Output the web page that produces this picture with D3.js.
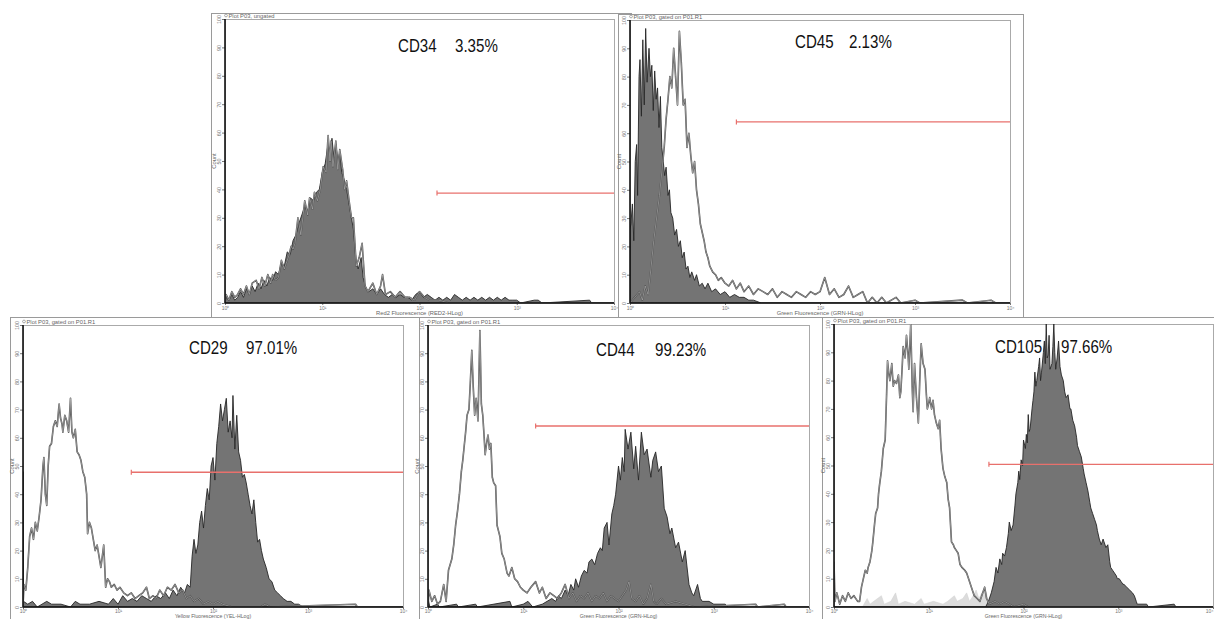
<!DOCTYPE html>
<html><head><meta charset="utf-8">
<script src="https://cdn.jsdelivr.net/npm/d3@7"></script>
<style>body{margin:0;background:#fff;} svg{display:block;font-family:"Liberation Sans",Arial,sans-serif;}</style>
</head><body><svg id="c" width="1214" height="619"></svg>
<script>
// ---------- data ----------
const markers = ["CD34", "CD45", "CD29", "CD44", "CD105"];
const percents = ["3.35%", "2.13%", "97.01%", "99.23%", "97.66%"];
const plotTitles = ["Plot P03, ungated", "Plot P03, gated on P01.R1", "Plot P03, gated on P01.R1", "Plot P03, gated on P01.R1", "Plot P03, gated on P01.R1"];
const axisTitles = ["Red2 Fluorescence (RED2-HLog)", "Green Fluorescence (GRN-HLog)", "Yellow Fluorescence (YEL-HLog)", "Green Fluorescence (GRN-HLog)", "Green Fluorescence (GRN-HLog)"];
const xTickValues = [1, 10, 100, 1000, 10000];
const xTickLabels = ["10\u2070", "10\u00b9", "10\u00b2", "10\u00b3", "10\u2074"];
const yTickValues = [0, 10, 20, 30, 40, 50, 60, 70, 80, 90, 100];
const yTickLabels = ["0", "10", "20", "30", "40", "50", "60", "70", "80", "90", "100"];
const yAxisLabel = "Count";
// gate marker: start (decades) and height (count)
const gateStart = [2.18, 1.12, 1.14, 1.13, 1.635];
const gateLevel = [38.7, 64, 47.8, 64.2, 50.4];

// histograms: [log10 fluorescence, count]
const cd34Stained = [[0,0],[0.01,2],[0.04,1],[0.07,3],[0.1,1],[0.13,2],[0.16,4],[0.19,2],[0.22,5],[0.25,3],[0.28,6],[0.31,4],[0.34,7],[0.37,5],[0.4,8],[0.43,6],[0.46,9],[0.49,8],[0.52,11],[0.55,10],[0.58,14],[0.61,13],[0.64,18],[0.67,17],[0.7,22],[0.73,24],[0.76,28],[0.79,31],[0.82,34],[0.85,32],[0.88,37],[0.91,36],[0.94,39],[0.97,40],[1.0,46],[1.03,49],[1.06,56],[1.08,52],[1.1,58],[1.12,51],[1.14,56],[1.16,50],[1.18,53],[1.2,46],[1.22,44],[1.25,40],[1.27,36],[1.3,30],[1.32,26],[1.35,14],[1.37,12],[1.4,16],[1.42,9],[1.45,5],[1.48,4],[1.52,5],[1.56,3],[1.6,5],[1.64,3],[1.68,2],[1.72,3],[1.76,2],[1.8,3],[1.84,2],[1.88,2],[1.92,1],[1.96,3],[2.0,4],[2.04,2],[2.08,3],[2.12,2],[2.16,1],[2.2,2],[2.24,1],[2.28,2],[2.32,1],[2.36,3],[2.4,2],[2.44,1],[2.48,2],[2.52,1],[2.56,2],[2.6,1],[2.64,2],[2.68,1],[2.72,2],[2.76,1],[2.8,2],[2.84,1],[2.88,2],[2.92,1],[2.96,1],[3.0,1],[3.04,0],[3.18,1],[3.22,1],[3.26,0],[3.75,1],[3.77,0],[4,0]];
const cd34Control = [[0,0],[0.01,3],[0.04,1],[0.07,4],[0.1,2],[0.13,3],[0.16,5],[0.19,3],[0.22,6],[0.25,3],[0.28,7],[0.32,8],[0.35,5],[0.38,9],[0.41,6],[0.44,10],[0.47,7],[0.49,10],[0.52,8],[0.55,9],[0.58,15],[0.61,12],[0.63,14],[0.66,17],[0.68,20],[0.7,19],[0.72,21],[0.75,30],[0.78,24],[0.82,36],[0.85,31],[0.87,37],[0.9,33],[0.92,39],[0.95,36],[0.98,40],[1.01,48],[1.04,46],[1.06,59],[1.08,50],[1.09,57],[1.11,48],[1.14,57],[1.16,47],[1.18,54],[1.21,47],[1.23,40],[1.25,43],[1.28,35],[1.3,30],[1.32,30],[1.35,13],[1.38,16],[1.41,21],[1.44,6],[1.47,4],[1.52,7],[1.56,3],[1.6,6],[1.62,10],[1.65,3],[1.7,4],[1.75,2],[1.8,4],[1.85,2],[1.9,2],[1.95,1],[2.0,4],[2.05,2],[2.1,1],[2.2,1],[2.3,0],[4,0]];

const cd45Stained = [[0,26],[0.01,28],[0.025,35],[0.04,22],[0.055,50],[0.07,56],[0.08,38],[0.095,80],[0.105,86],[0.12,66],[0.135,93],[0.15,70],[0.165,97],[0.18,78],[0.2,90],[0.215,80],[0.23,84],[0.245,68],[0.26,82],[0.275,72],[0.29,76],[0.305,62],[0.32,73],[0.335,55],[0.35,50],[0.365,45],[0.38,48],[0.4,38],[0.415,40],[0.43,32],[0.45,30],[0.47,24],[0.49,26],[0.51,20],[0.53,22],[0.55,16],[0.57,18],[0.59,12],[0.61,13],[0.63,9],[0.65,11],[0.68,8],[0.7,10],[0.73,6],[0.76,7],[0.79,5],[0.82,7],[0.86,4],[0.9,5],[0.95,3],[1.0,4],[1.05,2],[1.1,3],[1.15,2],[1.2,2],[1.25,1],[1.3,1],[1.38,0],[4,0]];
const cd45Control = [[0,0],[0.05,2],[0.1,4],[0.13,1],[0.16,6],[0.19,3],[0.22,12],[0.25,22],[0.28,30],[0.31,38],[0.34,48],[0.36,55],[0.38,65],[0.4,72],[0.42,80],[0.44,76],[0.46,90],[0.48,80],[0.5,70],[0.52,96],[0.54,85],[0.56,70],[0.58,72],[0.6,55],[0.62,60],[0.64,52],[0.66,46],[0.68,50],[0.7,40],[0.72,35],[0.74,28],[0.76,25],[0.78,22],[0.8,18],[0.82,16],[0.84,13],[0.87,11],[0.9,10],[0.93,8],[0.96,9],[1.0,7],[1.04,6],[1.08,8],[1.12,5],[1.16,7],[1.2,4],[1.25,6],[1.3,3],[1.35,5],[1.4,4],[1.45,3],[1.5,5],[1.55,2],[1.6,4],[1.65,3],[1.7,2],[1.75,4],[1.8,3],[1.85,2],[1.9,4],[1.95,3],[2.0,4],[2.05,9],[2.1,3],[2.15,5],[2.2,2],[2.25,3],[2.3,6],[2.35,2],[2.4,3],[2.45,4],[2.5,0],[2.55,2],[2.6,0],[2.65,2],[2.7,0],[2.8,2],[2.85,0],[3.0,1],[3.05,0],[3.5,1],[3.55,0],[3.8,1],[3.85,0],[4,0]];

const cd29Stained = [[0,48],[0.005,2],[0.05,1],[0.1,2],[0.15,0],[0.2,1],[0.25,2],[0.3,1],[0.4,1],[0.5,0],[0.55,2],[0.6,1],[0.7,1],[0.8,2],[0.9,1],[0.95,3],[1.0,1],[1.05,4],[1.1,2],[1.15,3],[1.2,2],[1.25,4],[1.3,3],[1.35,2],[1.4,4],[1.45,3],[1.5,5],[1.54,3],[1.58,6],[1.62,4],[1.66,7],[1.7,5],[1.73,8],[1.76,7],[1.78,18],[1.8,24],[1.82,19],[1.84,22],[1.86,30],[1.88,34],[1.9,28],[1.92,36],[1.94,42],[1.96,38],[1.98,50],[2.0,53],[2.02,45],[2.04,58],[2.06,64],[2.08,72],[2.1,66],[2.12,70],[2.14,74],[2.16,62],[2.18,66],[2.2,60],[2.21,75],[2.23,56],[2.25,68],[2.27,55],[2.29,52],[2.31,46],[2.33,47],[2.35,44],[2.37,40],[2.39,36],[2.41,33],[2.43,38],[2.45,30],[2.47,23],[2.49,24],[2.51,20],[2.53,17],[2.56,14],[2.59,10],[2.62,9],[2.65,6],[2.68,5],[2.71,4],[2.74,3],[2.78,2],[2.82,2],[2.86,1],[2.9,1],[2.95,0],[4,0]];
const cd29Control = [[0,0],[0.01,8],[0.03,6],[0.05,14],[0.07,25],[0.09,28],[0.11,24],[0.13,30],[0.15,27],[0.17,32],[0.19,38],[0.21,50],[0.22,53],[0.235,40],[0.25,36],[0.265,50],[0.28,57],[0.3,58],[0.32,64],[0.34,66],[0.36,64],[0.38,72],[0.395,67],[0.41,65],[0.42,62],[0.44,68],[0.46,66],[0.48,62],[0.5,74],[0.515,62],[0.53,60],[0.55,63],[0.57,55],[0.59,54],[0.61,52],[0.63,48],[0.65,46],[0.67,40],[0.68,26],[0.7,30],[0.72,28],[0.74,24],[0.76,20],[0.78,22],[0.8,18],[0.82,14],[0.85,22],[0.87,7],[0.89,10],[0.91,9],[0.93,7],[0.96,8],[0.99,6],[1.02,7],[1.06,5],[1.1,4],[1.14,5],[1.18,3],[1.22,4],[1.26,5],[1.3,7],[1.33,3],[1.37,4],[1.4,3],[1.44,6],[1.48,4],[1.52,7],[1.56,6],[1.6,8],[1.64,5],[1.68,6],[1.72,3],[1.76,4],[1.8,2],[1.85,3],[1.9,1],[1.95,2],[2.0,1],[2.05,2],[2.1,1],[2.2,0],[2.5,0],[2.55,1],[2.6,0],[3.5,1],[3.52,0],[4,0]];

const cd44Stained = [[0,3],[0.02,0],[0.1,1],[0.12,0],[0.3,1],[0.32,0],[0.5,1],[0.52,0],[0.86,2],[0.88,0],[1.0,1],[1.05,2],[1.1,0],[1.2,1],[1.25,2],[1.3,3],[1.34,2],[1.37,4],[1.4,3],[1.44,6],[1.47,4],[1.5,8],[1.53,6],[1.55,10],[1.58,7],[1.61,11],[1.64,13],[1.67,12],[1.69,16],[1.72,17],[1.75,15],[1.78,19],[1.81,21],[1.83,20],[1.85,28],[1.88,30],[1.9,22],[1.93,33],[1.95,36],[1.97,40],[2.0,50],[2.02,45],[2.04,53],[2.06,48],[2.07,63],[2.1,56],[2.13,62],[2.16,49],[2.18,57],[2.21,45],[2.24,62],[2.27,54],[2.3,56],[2.34,46],[2.36,52],[2.39,55],[2.42,48],[2.45,50],[2.48,35],[2.51,32],[2.54,26],[2.56,28],[2.6,21],[2.63,23],[2.67,16],[2.7,20],[2.74,8],[2.77,5],[2.79,4],[2.83,8],[2.86,3],[2.88,2],[2.95,2],[3.0,1],[3.12,1],[3.15,0],[4,0]];
const cd44Control = [[0,0],[0.01,6],[0.04,2],[0.07,4],[0.1,1],[0.13,2],[0.165,8],[0.19,2],[0.215,13],[0.25,17],[0.27,22],[0.29,29],[0.31,34],[0.33,40],[0.35,48],[0.365,52],[0.38,57],[0.395,62],[0.41,68],[0.43,70],[0.445,80],[0.46,91],[0.475,78],[0.49,68],[0.505,74],[0.525,66],[0.545,98],[0.56,72],[0.575,68],[0.59,60],[0.6,54],[0.615,58],[0.63,61],[0.645,56],[0.66,58],[0.675,46],[0.69,44],[0.71,43],[0.725,29],[0.74,27],[0.755,25],[0.775,19],[0.8,17],[0.83,12],[0.85,11],[0.88,14],[0.91,10],[0.94,9],[0.97,7],[1.0,6],[1.04,5],[1.08,7],[1.13,9],[1.17,5],[1.2,7],[1.24,3],[1.28,5],[1.32,4],[1.36,3],[1.4,5],[1.44,8],[1.48,3],[1.52,5],[1.56,2],[1.6,4],[1.64,3],[1.68,5],[1.72,2],[1.76,4],[1.8,3],[1.84,5],[1.88,2],[1.92,4],[1.96,3],[2.0,2],[2.04,4],[2.08,6],[2.11,9],[2.14,3],[2.18,2],[2.22,4],[2.26,1],[2.3,3],[2.34,8],[2.37,2],[2.4,1],[2.45,3],[2.5,1],[2.6,2],[2.7,1],[2.8,0],[3.44,1],[3.46,0],[3.74,1],[3.76,0],[4,0]];

const cd105Stained = [[0,0],[1.6,0],[1.63,2],[1.66,5],[1.69,9],[1.71,14],[1.73,12],[1.75,17],[1.77,15],[1.78,19],[1.8,18],[1.82,21],[1.84,26],[1.85,30],[1.87,27],[1.89,29],[1.91,36],[1.92,40],[1.94,44],[1.95,48],[1.96,45],[1.975,52],[1.99,50],[2.0,59],[2.02,56],[2.03,61],[2.04,58],[2.05,68],[2.06,62],[2.07,63],[2.09,70],[2.1,73],[2.11,76],[2.12,83],[2.13,78],[2.14,80],[2.16,85],[2.17,88],[2.18,80],[2.19,83],[2.21,90],[2.22,94],[2.23,86],[2.24,100],[2.25,88],[2.26,89],[2.27,96],[2.28,84],[2.3,86],[2.31,92],[2.32,100],[2.33,90],[2.34,84],[2.355,88],[2.37,94],[2.385,85],[2.4,82],[2.42,80],[2.435,76],[2.45,74],[2.47,75],[2.49,70],[2.5,70],[2.52,66],[2.54,64],[2.56,60],[2.57,57],[2.59,55],[2.61,53],[2.63,49],[2.64,47],[2.66,44],[2.68,41],[2.7,37],[2.71,35],[2.73,33],[2.75,31],[2.77,29],[2.78,27],[2.8,24],[2.82,22],[2.84,24],[2.85,23],[2.87,21],[2.89,22],[2.91,16],[2.92,14],[2.94,13],[2.96,12],[2.98,11],[2.99,10],[3.01,10],[3.03,9],[3.05,8],[3.06,8],[3.09,7],[3.12,6],[3.15,5],[3.17,4],[3.19,2],[3.2,1],[3.3,1],[3.32,0],[3.59,1],[3.61,0],[4,0]];
const cd105Control = [[0,16],[0.01,2],[0.03,5],[0.06,1],[0.09,4],[0.12,2],[0.15,5],[0.18,3],[0.21,4],[0.25,2],[0.27,2],[0.29,7],[0.31,10],[0.33,13],[0.35,12],[0.36,14],[0.38,16],[0.4,20],[0.41,23],[0.43,30],[0.44,33],[0.46,35],[0.47,40],[0.48,43],[0.5,48],[0.52,56],[0.54,59],[0.555,75],[0.565,87],[0.58,82],[0.59,80],[0.61,86],[0.625,78],[0.64,80],[0.66,79],[0.68,82],[0.695,74],[0.705,76],[0.72,85],[0.73,92],[0.75,88],[0.765,96],[0.78,90],[0.79,84],[0.81,100],[0.825,78],[0.835,69],[0.85,86],[0.87,74],[0.89,65],[0.905,80],[0.92,93],[0.94,86],[0.96,84],[0.975,75],[0.985,70],[1.0,72],[1.01,74],[1.03,70],[1.045,73],[1.06,68],[1.08,65],[1.1,63],[1.115,66],[1.13,56],[1.15,49],[1.17,46],[1.19,44],[1.205,38],[1.22,35],[1.24,23],[1.26,22],[1.27,21],[1.29,20],[1.31,19],[1.33,15],[1.35,14],[1.38,13],[1.4,12],[1.43,9],[1.45,7],[1.48,4],[1.51,3],[1.54,2],[1.57,5],[1.59,7],[1.61,3],[1.64,1],[1.7,2],[1.75,1],[1.8,2],[1.85,1],[1.9,0],[2.0,1],[2.05,0],[4,0]];
const cd105Background = [[0,0],[0.3,0],[0.35,3],[0.38,1],[0.42,2],[0.5,4],[0.53,1],[0.6,2],[0.65,5],[0.68,1],[0.75,2],[0.85,1],[0.92,3],[0.95,1],[1.05,2],[1.15,1],[1.2,2],[1.27,4],[1.3,2],[1.36,3],[1.4,5],[1.43,2],[1.47,4],[1.5,6],[1.53,3],[1.56,5],[1.6,6],[1.63,2],[1.66,0],[4,0]];

const stainedSeries = [cd34Stained, cd45Stained, cd29Stained, cd44Stained, cd105Stained];
const controlSeries = [cd34Control, cd45Control, cd29Control, cd44Control, cd105Control];
const backgroundSeries = [null, null, null, null, cd105Background];

// ---------- layout ----------
const layout = [
  {frame:[211,13,420,330], plot:[225,19,614,303], lab:[398,455,52], tickY:3.5, titleDy:12, titleFs:5.8},
  {frame:[618,14,405,330], plot:[630,20,1010,303], lab:[795,849,48], tickY:3.5, titleDy:12, titleFs:5.8},
  {frame:[10,317,412,320], plot:[23,325,403,607], lab:[189,246,354], tickY:2, titleDy:11, titleFs:5.2},
  {frame:[419,317,410,320], plot:[428,325,809,607], lab:[596,655,356], tickY:2, titleDy:11, titleFs:5.2},
  {frame:[822,317,400,320], plot:[834,324,1213,607], lab:[995,1061,353], tickY:2, titleDy:11, titleFs:5.2}
];

const svg = d3.select("#c");
svg.append("rect").attr("width",1214).attr("height",619).attr("fill","#fff");
const defs = svg.append("defs");

layout.forEach((L, i) => {
  const [l, t, r, b] = L.plot;
  const g = svg.append("g");
  g.append("rect").attr("x", L.frame[0]+0.5).attr("y", L.frame[1]+0.5)
    .attr("width", L.frame[2]).attr("height", L.frame[3])
    .attr("fill", "#fff").attr("stroke", "#9a9a9a").attr("stroke-width", 1);

  const x = d3.scaleLog().domain([1, 10000]).range([l, r]);
  const y = d3.scaleLinear().domain([0, 100]).range([b, t]);

  g.append("rect").attr("x", l+0.5).attr("y", t+0.5).attr("width", r-l).attr("height", b-t)
    .attr("fill", "#fff").attr("stroke", "#aaaaaa").attr("stroke-width", 1);

  const cid = "clip" + i;
  defs.append("clipPath").attr("id", cid).append("rect")
    .attr("x", l).attr("y", t).attr("width", r-l).attr("height", b-t);
  const pg = g.append("g").attr("clip-path", `url(#${cid})`);

  const area = d3.area().x(d => x(Math.pow(10, d[0]))).y0(b).y1(d => y(d[1]));
  const line = d3.line().x(d => x(Math.pow(10, d[0]))).y(d => y(d[1]));

  if (backgroundSeries[i]) {
    pg.append("path").datum(backgroundSeries[i]).attr("d", area)
      .attr("fill", "#dcdcdc").attr("stroke", "#d0d0d0").attr("stroke-width", 0.5);
  }
  pg.append("path").datum(stainedSeries[i]).attr("d", area)
    .attr("fill", "#747474").attr("stroke", "#262626").attr("stroke-width", 0.9)
    .attr("stroke-linejoin", "round");
  pg.append("path").datum(controlSeries[i]).attr("d", line)
    .attr("fill", "none").attr("stroke", "#4a4a4a").attr("stroke-width", 1.6)
    .attr("stroke-linejoin", "round");
  pg.append("path").datum(controlSeries[i]).attr("d", line)
    .attr("fill", "none").attr("stroke", "#c4c4c4").attr("stroke-width", 0.55)
    .attr("stroke-linejoin", "round");

  // gate marker
  const gx = x(Math.pow(10, gateStart[i])), gy = y(gateLevel[i]);
  g.append("line").attr("x1", gx).attr("x2", r).attr("y1", gy).attr("y2", gy)
    .attr("stroke", "#e8706c").attr("stroke-width", 1.4);
  g.append("line").attr("x1", gx).attr("x2", gx).attr("y1", gy-2.5).attr("y2", gy+2.5)
    .attr("stroke", "#e8706c").attr("stroke-width", 1.2);

  // axes
  const ya = g.append("g").attr("transform", `translate(${l},0)`)
    .call(d3.axisLeft(y).tickValues(yTickValues).tickFormat((d, k) => yTickLabels[k]).tickSize(3));
  ya.select(".domain").remove();
  ya.selectAll("line").attr("stroke", "#777");
  ya.selectAll("text").attr("font-size", 5.5).attr("fill", "#777")
    .attr("x", 0).attr("dy", null).attr("text-anchor", "middle")
    .attr("transform", "translate(-4,0) rotate(-90)").attr("y", 0);
  const xa = g.append("g").attr("transform", `translate(0,${b})`)
    .call(d3.axisBottom(x).tickValues(xTickValues).tickFormat((d, k) => xTickLabels[k]).tickSize(2));
  xa.select(".domain").remove();
  xa.selectAll("line").attr("stroke", "#777");
  xa.selectAll("text").attr("font-size", 5).attr("fill", "#777").attr("y", L.tickY)
    .attr("text-anchor", d => (r >= 1212 && d === 10000) ? "end" : "middle");

  g.append("line").attr("x1", l).attr("x2", l).attr("y1", t).attr("y2", b)
    .attr("stroke", "#111").attr("stroke-width", 1.6);
  g.append("line").attr("x1", l).attr("x2", r).attr("y1", b).attr("y2", b)
    .attr("stroke", "#111").attr("stroke-width", 1.6);

  // texts
  g.append("circle").attr("cx", l+1).attr("cy", t-3.5).attr("r", 1.4)
    .attr("fill", "none").attr("stroke", "#777").attr("stroke-width", 0.6);
  g.append("text").attr("x", l+3.5).attr("y", t-1.5).attr("font-size", 5.8).attr("fill", "#666")
    .text(plotTitles[i]);
  g.append("text").attr("transform", `translate(${l-9},${(t+b)/2}) rotate(-90)`)
    .attr("text-anchor", "middle").attr("font-size", 5.8).attr("fill", "#666").text(yAxisLabel);
  g.append("text").attr("x", (l+r)/2).attr("y", b+L.titleDy).attr("text-anchor", "middle")
    .attr("font-size", L.titleFs).attr("fill", "#666").text(axisTitles[i]);

  g.append("text").attr("transform", `translate(${L.lab[0]},${L.lab[2]}) scale(0.84,1)`)
    .attr("font-size", 18).attr("fill", "#111").text(markers[i]);
  g.append("text").attr("transform", `translate(${L.lab[1]},${L.lab[2]}) scale(0.84,1)`)
    .attr("font-size", 18).attr("fill", "#111").text(percents[i]);
});
</script>
</body></html>
